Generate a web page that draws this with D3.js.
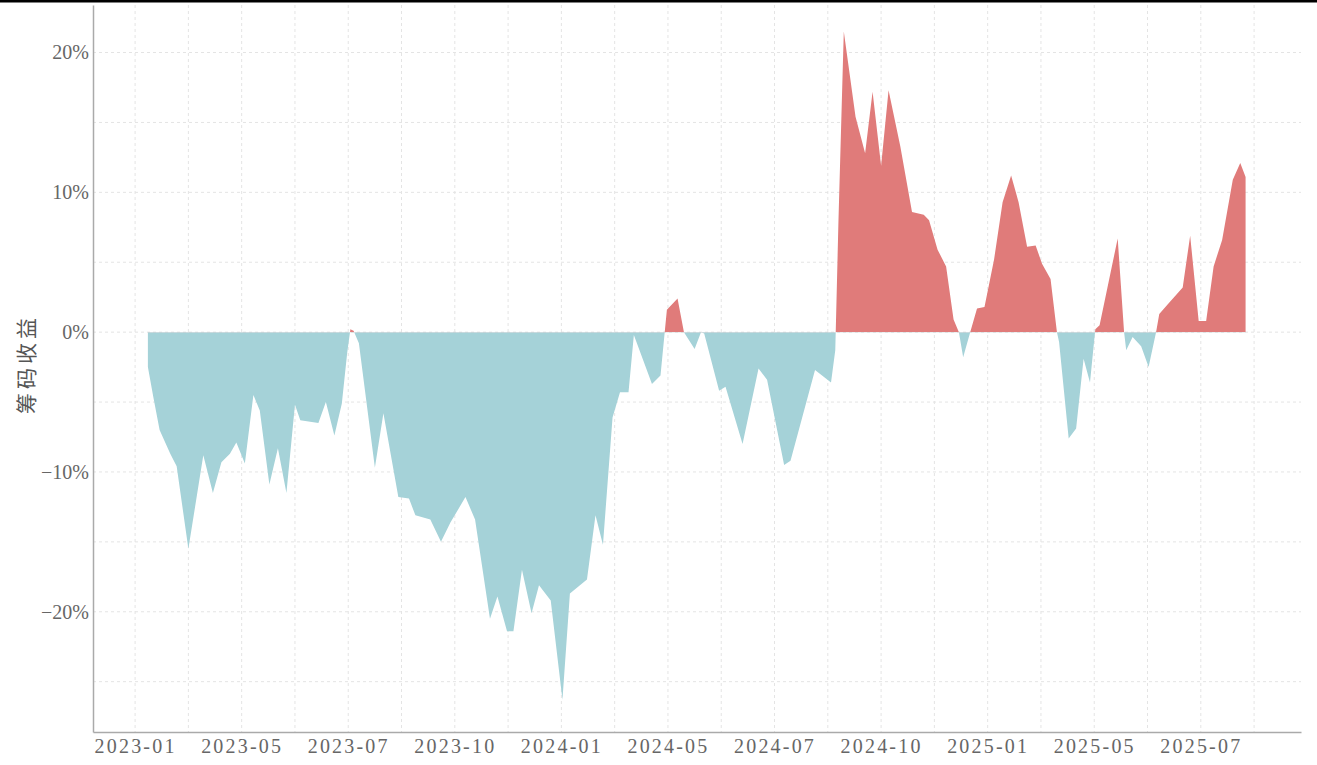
<!DOCTYPE html>
<html><head><meta charset="utf-8">
<script src="https://cdn.jsdelivr.net/npm/d3@7"></script>
<style>html,body{margin:0;padding:0;background:#fff;} svg{display:block}</style>
</head><body><svg id="c" width="1317" height="765"></svg>
<script>
// x position of each observation, in label-period units (tick i*10 = label i)
const periodIdx = [1.2,1.7,2.3,3.3,3.9,5.0,6.4,7.3,8.1,8.9,9.5,10.3,11.1,11.7,12.6,13.4,14.2,15.0,15.5,17.2,17.9,18.7,19.4,19.9,20.2,20.5,21.0,22.5,23.3,24.7,25.7,26.3,27.7,28.7,29.6,31.0,31.9,33.3,34.0,34.9,35.5,36.3,37.2,37.9,39.0,40.1,40.8,42.4,43.2,43.9,44.8,45.5,46.3,46.8,48.5,49.3,49.9,50.9,51.5,52.5,53.1,53.4,54.8,55.4,57.0,58.5,59.3,60.9,61.5,63.8,65.3,65.7,66.0,66.5,67.6,68.5,69.2,70.0,70.7,71.8,72.9,74.0,74.5,75.3,76.1,76.8,77.3,77.7,78.4,79.0,79.7,80.6,81.4,82.2,82.9,83.7,84.5,85.1,85.9,86.5,86.7,87.6,88.3,89.0,89.6,90.1,90.5,92.2,92.8,93.0,93.6,94.4,95.1,95.8,96.1,96.9,98.3,99.0,99.8,100.5,101.2,102.0,103.0,103.7,104.2];
// chip return, percent
const chipReturn = [-2.5,-4.6,-7.0,-8.7,-9.6,-15.5,-8.8,-11.5,-9.3,-8.7,-7.9,-9.4,-4.5,-5.6,-10.9,-8.3,-11.5,-5.2,-6.3,-6.5,-5.0,-7.4,-5.1,-1.5,0.2,0.1,-0.8,-9.7,-5.8,-11.8,-11.9,-13.1,-13.4,-15.0,-13.6,-11.8,-13.4,-20.5,-18.9,-21.4,-21.4,-17.0,-20.1,-18.1,-19.2,-26.3,-18.7,-17.7,-13.1,-15.2,-6.1,-4.3,-4.3,-0.2,-3.7,-3.1,1.6,2.4,0.0,-1.2,0.0,-0.1,-4.2,-3.9,-8.0,-2.6,-3.4,-9.5,-9.2,-2.7,-3.6,-1.3,8.0,21.5,15.4,12.8,17.2,11.9,17.3,13.3,8.6,8.4,8.0,5.9,4.7,0.9,0.0,-1.8,0.1,1.7,1.8,5.2,9.3,11.2,9.3,6.1,6.2,4.9,3.8,0.0,-0.7,-7.6,-6.9,-1.9,-3.6,0.2,0.5,6.7,0.0,-1.3,-0.35,-1.0,-2.5,0.0,1.3,2.0,3.2,6.9,0.8,0.8,4.7,6.6,10.9,12.1,11.1];
const xTickIdx = [0,10,20,30,40,50,60,70,80,90,100];
const xTickLabels = ["2023-01","2023-05","2023-07","2023-10","2024-01","2024-05","2024-07","2024-10","2025-01","2025-05","2025-07"];
const xGridIdx = [0,5,10,15,20,25,30,35,40,45,50,55,60,65,70,75,80,85,90,95,100,105];
const yTickValues = [-20,-10,0,10,20];
const yGridValues = [-25,-20,-15,-10,-5,0,5,10,15,20];
const yTitle = "筹码收益";
const posColor = "#e07b7a", negColor = "#a5d2d8";

const svg = d3.select("#c");
const W = 1317, H = 765;
const x = d3.scaleLinear().domain([-3.95, 109.4]).range([93, 1301]);
const y = d3.scaleLinear().domain([-28.6, 23.4]).range([732, 5]);
const data = periodIdx.map((p, i) => ({p, v: chipReturn[i]}));

svg.append("rect").attr("x",0).attr("y",0).attr("width",W).attr("height",2.5).attr("fill","#000");

const grid = svg.append("g").attr("stroke","#e4e4e4").attr("stroke-width",1).attr("stroke-dasharray","3,3");
grid.selectAll(".h").data(yGridValues).join("line")
  .attr("x1",93).attr("x2",1301).attr("y1",d=>y(d)).attr("y2",d=>y(d));
grid.selectAll(".v").data(xGridIdx).join("line")
  .attr("x1",d=>x(d)).attr("x2",d=>x(d)).attr("y1",5).attr("y2",732);

const defs = svg.append("defs");
defs.append("clipPath").attr("id","pos").append("rect")
  .attr("x",0).attr("y",0).attr("width",W).attr("height",y(0));
defs.append("clipPath").attr("id","neg").append("rect")
  .attr("x",0).attr("y",y(0)).attr("width",W).attr("height",H-y(0));

const area = d3.area().x(d=>x(d.p)).y0(y(0)).y1(d=>y(d.v));
svg.append("path").datum(data).attr("d",area).attr("fill",posColor).attr("clip-path","url(#pos)");
svg.append("path").datum(data).attr("d",area).attr("fill",negColor).attr("clip-path","url(#neg)");

const fmt = d => (d < 0 ? "\u2212" + Math.abs(d) : d) + "%";
const ax = svg.append("g").attr("transform","translate(93,0)")
  .call(d3.axisLeft(y).tickValues(yTickValues).tickFormat(fmt).tickSize(0).tickSizeOuter(0).tickPadding(4));
const bx = svg.append("g").attr("transform","translate(0,732)")
  .call(d3.axisBottom(x).tickValues(xTickIdx).tickFormat((d,i)=>xTickLabels[i]).tickSize(0).tickSizeOuter(0).tickPadding(7));
[ax,bx].forEach(g=>{
  g.select(".domain").attr("stroke","#aaa").attr("stroke-width",1.5);
  g.selectAll("text").attr("fill","#666").style("font-family","'Liberation Serif', serif").style("font-size","20px");
});
bx.selectAll("text").style("letter-spacing","2.2px");

svg.append("text").attr("transform","translate(34,364) rotate(-90)")
  .attr("text-anchor","middle").attr("fill","#555")
  .style("font-family","'Noto Sans CJK SC', sans-serif").style("font-size","21px").style("letter-spacing","4px")
  .text(yTitle);
</script></body></html>
